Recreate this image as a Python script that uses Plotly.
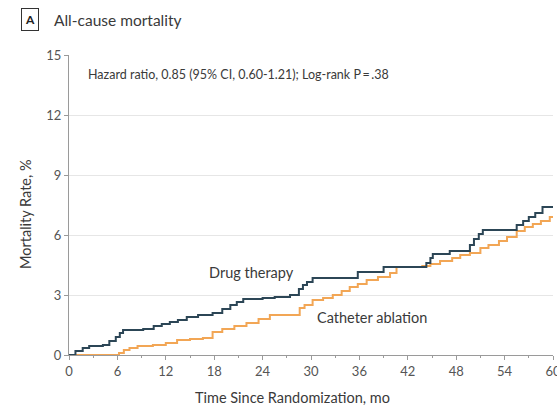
import plotly.graph_objects as go

# Drug therapy Kaplan-Meier step curve (month, mortality %)
drug_months = [0, 0.8, 1.7, 2.5, 4.2, 5.0, 5.8, 6.3, 6.7, 9.2, 10.5, 11.5, 12.5, 13.5, 14.6, 16, 17.8,
               19, 20, 20.8, 21.6, 24, 25.5, 27.4, 28.5, 29.0, 29.5, 30.2, 35.8, 39, 44.3, 44.8, 45.1,
               47.2, 49.7, 50.2, 50.8, 51.3, 55.5, 56.3, 57.0, 57.8, 58.7, 60]
drug_values = [0, 0.2, 0.35, 0.45, 0.5, 0.7, 0.9, 1.1, 1.25, 1.3, 1.45, 1.55, 1.65, 1.75, 1.9, 2.0, 2.1,
               2.3, 2.5, 2.65, 2.8, 2.85, 2.9, 3.0, 3.3, 3.5, 3.65, 3.85, 4.15, 4.4, 4.6, 4.85, 5.05,
               5.2, 5.5, 5.8, 6.05, 6.25, 6.5, 6.7, 6.9, 7.1, 7.4, 7.4]

# Catheter ablation Kaplan-Meier step curve
abl_months = [0, 6.2, 6.8, 7.5, 8.5, 10.4, 12, 13.4, 15, 16.6, 17.8, 19, 20.5, 22, 23.5, 24.9, 28.6,
              29.2, 30.2, 31.5, 32.7, 33.8, 34.8, 35.8, 36.9, 38.3, 39.8, 40.6, 43.8, 44.8, 46, 47.5,
              48.5, 49.7, 51, 52, 53.3, 54.3, 55.5, 56.5, 57.5, 58.5, 59.6, 60]
abl_values = [0, 0.1, 0.25, 0.35, 0.45, 0.5, 0.6, 0.75, 0.8, 0.85, 1.15, 1.3, 1.45, 1.6, 1.8, 2.0, 2.35,
              2.5, 2.75, 2.85, 3.0, 3.2, 3.4, 3.55, 3.75, 3.9, 4.1, 4.4, 4.45, 4.55, 4.7, 4.85,
              5.0, 5.1, 5.35, 5.5, 5.7, 5.9, 6.2, 6.4, 6.55, 6.7, 6.9, 6.9]

x_ticks = [0, 6, 12, 18, 24, 30, 36, 42, 48, 54, 60]
y_ticks = [0, 3, 6, 9, 12, 15]

FONT = "Lato"
TXT = "#3a3a3a"

fig = go.Figure()
fig.add_trace(go.Scatter(x=abl_months, y=abl_values, mode="lines", line_shape="hv",
                         line=dict(color="#f2a655", width=2), name="Catheter ablation"))
fig.add_trace(go.Scatter(x=drug_months, y=drug_values, mode="lines", line_shape="hv",
                         line=dict(color="#2c4656", width=2), name="Drug therapy"))

fig.update_layout(
    width=557, height=413,
    margin=dict(l=69, r=4, t=55, b=58, autoexpand=False),
    paper_bgcolor="white", plot_bgcolor="white",
    showlegend=False,
    font=dict(family=FONT, size=12, color=TXT),
    xaxis=dict(range=[0, 60], tickvals=x_ticks, showgrid=False, zeroline=False,
               showline=True, linecolor="#9a9a9a", linewidth=1, automargin=False,
               ticks="outside", ticklen=4, tickcolor="#9a9a9a",
               minor=dict(tickvals=[3, 9, 15, 21, 27, 33, 39, 45, 51, 57], ticks="outside",
                          ticklen=2, tickcolor="#9a9a9a"),
               ticklabeloverflow="allow",
               tickfont=dict(size=13, color="#555555")),
    yaxis=dict(range=[0, 15], tickvals=y_ticks, showgrid=True, gridcolor="#e6e6e6", gridwidth=1,
               zeroline=False, showline=True, linecolor="#9a9a9a", linewidth=1, automargin=False,
               ticks="outside", ticklen=4, tickcolor="#9a9a9a",
               tickfont=dict(size=13, color="#555555")),
)

# axis titles
fig.add_annotation(xref="paper", yref="paper", x=0.461, y=-0.14, xanchor="center", yanchor="middle",
                   text="Time Since Randomization, mo", showarrow=False,
                   font=dict(size=14.5, color=TXT, family=FONT))
fig.add_annotation(xref="paper", yref="paper", x=-0.091, y=0.47, xanchor="center", yanchor="middle",
                   text="Mortality Rate, %", showarrow=False, textangle=-90,
                   font=dict(size=14.5, color=TXT, family=FONT))

# panel label and title
fig.add_annotation(xref="paper", yref="paper", x=-0.08, y=1.117, xanchor="center", yanchor="middle",
                   text="<b>A</b>", showarrow=False, font=dict(size=12, color="#222222", family=FONT),
                   bordercolor="#333333", borderwidth=1, borderpad=3, bgcolor="white")
fig.add_annotation(xref="paper", yref="paper", x=-0.035, y=1.117, xanchor="left", yanchor="middle",
                   text="All-cause mortality", showarrow=False, font=dict(size=15.5, color=TXT, family=FONT))
fig.add_annotation(xref="paper", yref="paper", x=0.035, y=0.935, xanchor="left", yanchor="middle",
                   text="Hazard ratio, 0.85 (95% CI, 0.60-1.21); Log-rank P\u2009=\u2009.38", showarrow=False,
                   font=dict(size=12.5, color=TXT, family=FONT))
fig.add_annotation(x=17.1, y=4.15, xanchor="left", yanchor="middle", text="Drug therapy",
                   showarrow=False, font=dict(size=14.5, color=TXT, family=FONT))
fig.add_annotation(x=30.5, y=1.9, xanchor="left", yanchor="middle", text="Catheter ablation",
                   showarrow=False, font=dict(size=14.5, color=TXT, family=FONT))

fig.write_html("out.html")
